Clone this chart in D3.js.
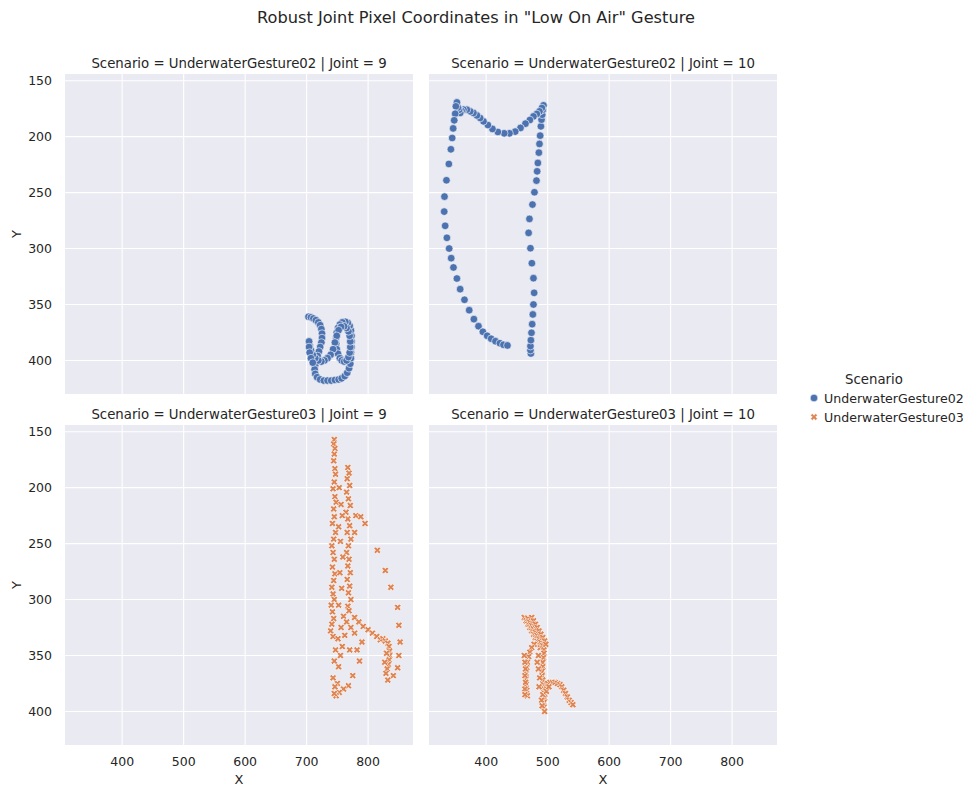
<!DOCTYPE html>
<html>
<head>
<meta charset="utf-8">
<script src="https://cdn.jsdelivr.net/npm/d3@7"></script>
<style>
  body { margin: 0; background: #fff; }
  text { font-family: "DejaVu Sans", sans-serif; fill: #262626; }
</style>
</head>
<body>
<svg id="chart" width="963" height="785"></svg>
<script>
// values: [x, y] pixel coordinates
const scenarios = ["UnderwaterGesture02", "UnderwaterGesture03"];
const joints = [9, 10];
const xTicks = [400, 500, 600, 700, 800];
const yTicks = [150, 200, 250, 300, 350, 400];

const g02joint9 = [
  [703,361],[707,361.5],[711,362.5],[715,364],[719,366],[722,368.5],[724,372],[725,376],[725,380],
  [724,384],[722,388],[720,392],[718,396],[716,400],[714,404],[713,408],[714,412],[717,415],[722,417],
  [728,418],[734,418],[740,418],[746,417.5],[752,417],[757,416],[762,414],[766,411],[769,407],[771,403],
  [772,398],[772,393],[773,388],[773,383],[773,378],[772,373],[770,369],[767,366.5],[763,365.5],[758,366],
  [754,368],[751,371],[749,375],[748,380],[748,385],[749,390],[751,394],[754,398],[757,400],[761,401],
  [765,400],[768,397],[770,393],[771,388],[771,383],[770,378],[768,374],[765,371],[761,369.5],[756,370],
  [752,373],[749,378],[746,384],[743,390],[739,395],[734,398],[729,400],[724,401],[719,400],[714,398],
  [710,395],[707,391],[705,387],[704,383],[704,388],[705,393],[707,398],[710,402]
];

const g02joint10 = [
  [472.7,393.8],[472,390.8],[472,387.2],[472.7,381.9],[473.7,375.3],[474.8,367.6],[475.9,358.9],[476.9,350],
  [478,339.6],[476.9,326.5],[474.3,313.1],[472,299.7],[469,286],[470.4,273.5],[475.3,260.7],[478.5,249.7],
  [481.8,239.3],[482.9,231],[484.1,223.5],[485.7,214.3],[486.7,206.5],[487.8,199.1],[489,190.8],[490,184.8],
  [491.1,180.4],[492.2,175.9],[493.2,172],
  [490.6,174.4],[486.7,177.4],[482.4,179.7],[476.9,181.9],[471.1,185.1],[463.9,188.4],[455.8,192.2],
  [447.2,195.5],[437.9,197],[429.3,197],[419,195.8],[410.2,193.1],[402.8,189.6],[395.6,186.3],[390.2,183.3],
  [384.9,181],[379.3,178.8],[374,177.4],[368.6,175.9],[363.1,175.9],[360,177],[357.7,178.8],[356,176],[354,174],
  [352.4,169.4],[350.7,172.9],[349.6,179.5],[348,185.4],[346.3,192.6],[344.7,201.2],[342.6,211.3],[339.3,224.4],
  [335.4,239],[332.2,253.6],[331.7,267],[333.3,279.7],[336.1,290.4],[339.8,300],[343.1,308.6],[346.8,316.9],
  [352.4,326.8],[357.7,336.3],[364.7,345.8],[372.4,355.1],[380,363.1],[387.5,369.4],[394.6,374.4],[401.6,378],
  [408.1,380.6],[415.1,382.8],[422.3,384.6],[428.1,386],[434.6,386.6]
];

const g03joint9 = [
  [745,157],[744,161],[746,165],[745,170],[744,176],[746,183],[747,188],[745,195],[743,201],[746,208],
  [748,213],[744,219],[745,226],[742,232],[747,240],[744,246],[741,252],[743,258],[745,264],[742,271],
  [746,277],[744,283],[741,289],[743,295],[745,300],[740,305],[742,311],[744,317],[741,322],[739,328],[743,333],
  [767,182],[769,187],[766,192],[770,198],[765,204],[768,210],[771,216],[764,222],[767,228],[770,234],
  [766,240],[772,246],[768,252],[765,258],[769,264],[767,270],[771,276],[766,282],[770,288],[768,294],
  [772,300],[767,306],[769,310],
  [753,200],[756,215],[758,225],[752,235],[755,248],[759,262],[754,276],[757,290],[752,305],[760,315],
  [756,325],[751,335],[758,342],
  [780,225],[788,226],[778,240],[795,232],[815,256],[828,274],[837,289],[848,307],[850,323],[852,338],
  [850,350],[848,361],[841,368],[832,372],
  [778,316],[785,320],[792,324],[800,327],[807,330],[814,333],[820,336],
  [824,335],[828,337],[832,339],[834,342],[835,346],[835,350],[834,354],[833,358],[831,362],[829,366],
  [827,356],[830,348],
  [790,338],[786,355],[782,345],[775,368],[768,377],[760,380],[753,383],[748,386],[745,384],[750,375],
  [752,360],[755,350],[747,345],[745,355],[743,370],[746,378],
  [765,320],[772,325],[762,332],[770,345],[778,330]
];

const g03joint10 = [
  [462,316],[465,319],[468,322],[471,325],[474,328],[477,331],[480,334],[483,337],[486,340],[488,343],
  [468,317],[471,320],[474,323],[477,326],[480,329],[483,332],[486,335],[489,338],[492,341],[494,345],
  [474,316],[477,319],[480,322],[483,325],[486,328],[489,331],[492,334],[495,337],[497,340],
  [494,348],[493,352],[492,356],[492,360],[491,364],[491,368],[492,372],[493,376],[494,380],[495,384],
  [495,388],[494,392],[494,396],[495,400],[492,385],[490,390],[491,395],
  [478,340],[474,343],[471,347],[469,351],[467,356],[466,361],[465,366],[465,371],[465,376],[466,381],
  [467,386],[462,350],[463,356],[464,362],[463,368],[464,374],[463,380],[463,385],
  [497,378],[500,375],[504,374],[508,374],[512,374],[516,375],[520,376],[523,378],[526,381],[529,384],
  [532,387],[535,390],[538,392],[541,394],[498,382],[502,378],
  [485,350],[483,356],[485,362],[487,370],[486,378]
];

const panelData = {
  "UnderwaterGesture02|9": g02joint9,
  "UnderwaterGesture02|10": g02joint10,
  "UnderwaterGesture03|9": g03joint9,
  "UnderwaterGesture03|10": g03joint10
};

const colors = { UnderwaterGesture02: "#4C72B0", UnderwaterGesture03: "#DD8452" };

const svg = d3.select("#chart");
const panelW = 348, panelH = 320;
const panelLeft = [65, 429];
const panelTop = [74, 425];

const x = d3.scaleLinear().domain([307, 873]).range([0, panelW]);
const y = d3.scaleLinear().domain([144, 430]).range([0, panelH]);

const circle = d3.symbol(d3.symbolCircle, 46);
const cross = d3.symbol(d3.symbolCross, 30);

svg.append("text")
  .attr("x", 476).attr("y", 17)
  .attr("text-anchor", "middle").attr("dominant-baseline", "central")
  .style("font-size", "16.2px")
  .text('Robust Joint Pixel Coordinates in "Low On Air" Gesture');

scenarios.forEach((sc, row) => {
  joints.forEach((jt, col) => {
    const g = svg.append("g")
      .attr("transform", `translate(${panelLeft[col]},${panelTop[row]})`);

    g.append("rect").attr("width", panelW).attr("height", panelH).attr("fill", "#EAEAF2");

    g.selectAll("line.gx").data(xTicks).join("line")
      .attr("x1", d => x(d)).attr("x2", d => x(d))
      .attr("y1", 0).attr("y2", panelH)
      .attr("stroke", "#fff").attr("stroke-width", 1.1);
    g.selectAll("line.gy").data(yTicks).join("line")
      .attr("y1", d => y(d)).attr("y2", d => y(d))
      .attr("x1", 0).attr("x2", panelW)
      .attr("stroke", "#fff").attr("stroke-width", 1.1);

    g.append("text")
      .attr("x", panelW / 2).attr("y", -11)
      .attr("text-anchor", "middle").attr("dominant-baseline", "central")
      .style("font-size", "13.3px")
      .text(`Scenario = ${sc} | Joint = ${jt}`);

    if (col === 0) {
      g.selectAll("text.yt").data(yTicks).join("text")
        .attr("x", -13).attr("y", d => y(d))
        .attr("text-anchor", "end").attr("dominant-baseline", "central")
        .style("font-size", "12.5px")
        .text(d => d);
      g.append("text")
        .attr("transform", `translate(${-49},${panelH / 2}) rotate(-90)`)
        .attr("text-anchor", "middle").attr("dominant-baseline", "central")
        .style("font-size", "13px")
        .text("Y");
    }
    if (row === 1) {
      g.selectAll("text.xt").data(xTicks).join("text")
        .attr("x", d => x(d)).attr("y", panelH + 16)
        .attr("text-anchor", "middle").attr("dominant-baseline", "central")
        .style("font-size", "12.5px")
        .text(d => d);
      g.append("text")
        .attr("x", panelW / 2).attr("y", panelH + 34)
        .attr("text-anchor", "middle").attr("dominant-baseline", "central")
        .style("font-size", "13px")
        .text("X");
    }

    const pts = panelData[`${sc}|${jt}`];
    g.selectAll("path.pt").data(pts).join("path")
      .attr("class", "pt")
      .attr("d", row === 0 ? circle : cross)
      .attr("transform", d => `translate(${x(d[0])},${y(d[1])})` + (row === 1 ? " rotate(45)" : ""))
      .attr("fill", colors[sc])
      .attr("stroke", "#fff").attr("stroke-width", 0.6);
  });
});

// legend
const legend = svg.append("g").attr("transform", "translate(814,379)");
legend.append("text")
  .attr("x", 60).attr("y", 0)
  .attr("text-anchor", "middle").attr("dominant-baseline", "central")
  .style("font-size", "13.3px")
  .text("Scenario");
scenarios.forEach((sc, i) => {
  legend.append("path")
    .attr("d", i === 0 ? circle : cross)
    .attr("transform", `translate(0,${19 + i * 19})` + (i === 1 ? " rotate(45)" : ""))
    .attr("fill", colors[sc])
    .attr("stroke", "#fff").attr("stroke-width", 0.6);
  legend.append("text")
    .attr("x", 10).attr("y", 19 + i * 19)
    .attr("dominant-baseline", "central")
    .style("font-size", "12.6px")
    .text(sc);
});
</script>
</body>
</html>
